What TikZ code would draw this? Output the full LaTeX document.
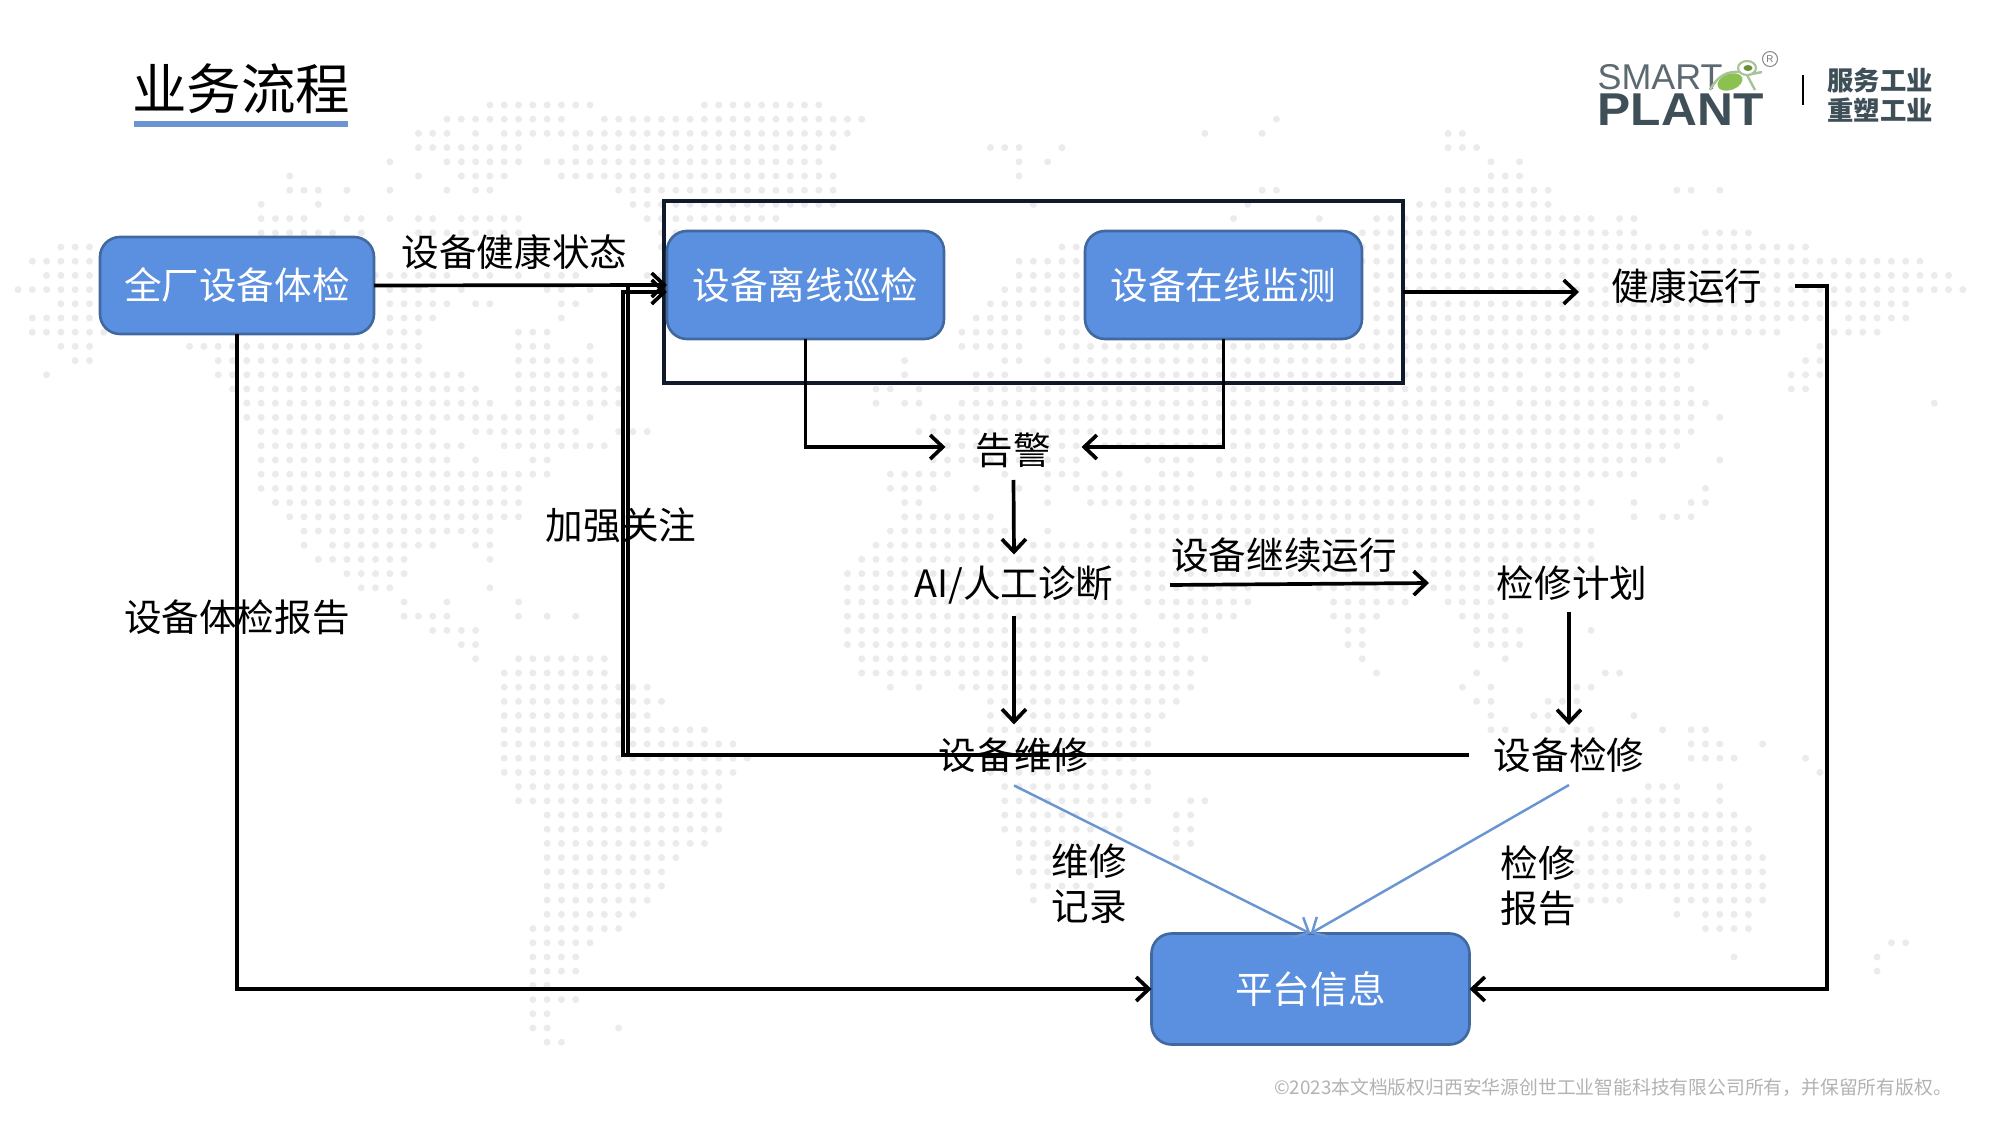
\documentclass[tikz,border=0pt]{standalone}
\usepackage{fontspec}
\setmainfont{Noto Sans CJK SC}
\newfontfamily\logofont{Liberation Sans}
\usetikzlibrary{arrows.meta}
\definecolor{boxblue}{RGB}{91,143,224}
\definecolor{boxedge}{RGB}{65,105,159}
\definecolor{linkblue}{RGB}{106,149,210}
\definecolor{framedark}{RGB}{16,26,42}
\definecolor{logogrey}{RGB}{63,79,87}
\definecolor{logoleaf}{RGB}{140,193,82}
\definecolor{logopale}{RGB}{169,194,154}
\newcommand{\worldrows}{0/33/40,0/48/56,1/30/38,1/41/56,1/57/59,1/88/88,2/28/30,2/32/32,2/34/37,2/38/58,2/83/83,2/87/87,2/100/101,
3/28/35,3/39/57,3/68/70,3/73/73,3/100/102,4/26/26,4/30/35,4/37/56,4/70/70,4/72/72,4/103/103,4/105/105,
5/19/19,5/28/28,5/31/34,5/38/57,5/70/70,5/103/105,6/19/21,6/23/23,6/26/26,6/30/30,6/32/33,6/42/57,6/87/88,6/100/107,6/116/117,6/119/119,
7/17/17,7/21/21,7/43/57,7/71/71,7/86/86,7/98/107,8/17/20,8/23/24,8/26/26,8/28/29,8/31/35,8/44/53,8/85/85,8/91/91,8/95/110,8/112/113,
9/17/22,9/24/24,9/28/29,9/30/35,9/45/48,9/94/113,9/118/121,10/3/5,10/45/48,10/73/74,10/94/125,11/1/5,11/70/74,11/94/133,
12/2/5,12/25/30,12/32/33,12/35/35,12/37/39,12/44/45,12/70/74,12/95/135,13/0/5,13/26/29,13/31/31,13/37/38,13/40/40,13/45/45,13/69/74,13/95/136,
14/3/5,14/26/30,14/32/33,14/38/39,14/68/72,14/73/74,14/95/132,15/1/5,15/26/29,15/38/38,15/67/70,15/72/74,15/95/126,15/128/132,
16/1/6,16/26/28,16/35/37,16/66/70,16/72/74,16/95/123,16/127/130,17/3/5,17/12/28,17/35/37,17/40/40,17/66/70,17/73/118,17/126/126,
18/4/5,18/14/28,18/35/40,18/62/62,18/69/70,18/72/72,18/74/117,18/125/126,19/2/2,19/14/31,19/35/41,19/62/62,19/67/69,19/72/105,19/107/116,19/124/126,
20/15/32,20/35/42,20/60/61,20/63/63,20/67/117,20/124/125,21/16/33,21/35/42,21/60/60,21/62/63,21/66/103,21/105/118,21/134/134,
22/16/38,22/40/40,22/64/117,22/119/119,23/17/29,23/32/39,23/42/44,23/63/117,24/17/31,24/34/41,24/64/116,
25/17/30,25/32/32,25/36/37,25/64/74,25/79/82,25/84/115,25/119/119,26/17/37,26/61/65,26/69/69,26/72/74,26/76/77,26/80/82,26/84/113,
27/17/35,27/61/64,27/67/67,27/70/70,27/72/72,27/74/82,27/85/109,27/118/118,28/18/35,28/62/63,28/72/72,28/75/110,28/113/113,28/117/118,
29/19/35,29/62/68,29/78/109,29/113/113,29/115/117,30/20/33,30/61/69,30/72/72,30/78/110,31/20/20,31/22/29,31/32/33,31/60/110,
32/21/27,32/33/33,32/59/110,33/23/27,33/58/110,34/24/26,34/33/33,34/58/86,34/91/103,
35/27/27,35/30/30,35/35/35,35/58/77,35/79/86,35/92/97,35/100/103,36/27/30,36/35/35,36/37/37,36/39/39,36/58/78,36/80/85,36/92/95,36/101/104,
37/29/32,37/58/78,37/81/83,37/93/94,37/102/105,37/110/110,38/31/32,38/58/81,38/93/94,38/102/105,39/32/32,39/35/41,39/59/83,39/94/94,39/104/104,
40/34/41,40/59/82,40/95/95,40/102/102,40/111/112,41/34/44,41/61/61,41/63/63,41/66/82,41/101/101,41/103/103,41/109/110,
42/34/45,42/68/81,42/102/103,42/107/109,43/34/44,43/68/80,43/103/103,43/106/109,43/113/113,
44/34/48,44/68/79,44/103/104,44/107/109,44/110/110,44/115/115,44/117/118,45/34/50,45/68/79,45/117/119,45/122/122,
46/34/51,46/68/78,46/117/120,46/125/125,47/34/50,47/68/79,47/126/126,48/35/49,48/69/76,48/78/79,48/114/116,48/119/119,
49/35/49,49/69/79,49/82/83,49/112/116,49/119/119,50/37/49,50/69/77,50/81/82,50/111/120,51/37/49,51/69/77,51/81/82,51/110/121,
52/37/48,52/70/75,52/81/82,52/109/121,53/37/46,53/70/75,53/81/81,53/109/122,54/37/45,54/70/75,54/109/122,55/37/45,55/71/75,55/109/122,
56/37/44,56/71/71,56/109/112,56/116/122,57/37/43,57/116/116,57/118/121,58/36/42,58/118/121,59/36/40,59/131/132,
60/36/39,60/120/120,60/130/130,61/36/39,61/130/130,62/36/37,63/36/39,64/36/37,65/36/37,65/42/42,66/37/38}
\tikzset{
  flowbox/.style={draw=boxedge,fill=boxblue,line width=0.75pt,rounded corners=0.2cm,text=white,inner sep=0pt,outer sep=0pt,font=\fontsize{10.7}{12.8}\selectfont},
  flowtext/.style={inner sep=0pt,outer sep=0pt,align=center,font=\fontsize{10.7}{12.8}\selectfont},
  flowline/.style={black,line width=1.05pt,-{Straight Barb[length=3.6pt,width=6.8pt]}},
  plainline/.style={black,line width=1.05pt},
  recordline/.style={linkblue,line width=0.7pt,-{Straight Barb[length=3.4pt,width=6.4pt]}}
}
\begin{document}
\begin{tikzpicture}[line cap=butt,line join=miter,x=1cm,y=1cm]
\useasboundingbox (0,0) rectangle (20,11.25);
\foreach \r/\a/\b in \worldrows {
  \foreach \c in {\a,...,\b} {
    \fill[black!8] ({0.18+0.143*\c},{10.20-0.142*\r}) circle (0.035);
  }
}
\node[anchor=center,inner sep=0pt,font=\fontsize{15.5}{18}\selectfont] (title) at (2.41,10.36) {业务流程};
\fill[linkblue] (1.34,9.98) rectangle (3.48,10.04);
\node[anchor=base west,inner sep=0pt,text=logogrey!85,font=\logofont\fontsize{10.2}{12}\selectfont] (smart) at (15.97,10.35) {SMART};
\node[anchor=base west,inner sep=0pt,text=logogrey,font=\logofont\bfseries\fontsize{13.1}{15}\selectfont,xscale=1.08,transform shape] (plant) at (15.97,9.99) {PLANT};
\draw[logopale,line width=0.7pt] (17.10,10.35) .. controls (17.18,10.50) and (17.28,10.54) .. (17.40,10.53);
\draw[logopale,line width=0.7pt] (17.47,10.50) -- (17.62,10.53);
\draw[logopale,line width=0.7pt] (17.47,10.50) -- (17.55,10.35);
\draw[logopale,fill=white,line width=0.6pt] (17.47,10.57) ellipse (0.09 and 0.07);
\fill[logoleaf!75!black] (17.48,10.57) ellipse (0.045 and 0.03);
\fill[logoleaf,rotate around={20:(17.30,10.43)}] (17.30,10.43) ellipse (0.13 and 0.08);
\draw[black!45,line width=0.3pt] (17.70,10.66) circle (0.075);
\node[inner sep=0pt,text=black!55,font=\logofont\fontsize{2.8}{3}\selectfont] (regmark) at (17.70,10.66) {R};
\draw[black,line width=0.6pt] (18.03,10.50) -- (18.03,10.20);
\node[inner sep=0pt,text=logogrey,font=\bfseries\fontsize{7.5}{9}\selectfont] (sloga) at (18.80,10.44) {服务工业};
\node[inner sep=0pt,text=logogrey,font=\bfseries\fontsize{7.5}{9}\selectfont] (slogb) at (18.80,10.15) {重塑工业};
\node[draw=framedark,line width=1.15pt,inner sep=0pt,outer sep=0pt,minimum width=7.39cm,minimum height=1.82cm] (frame) at (10.335,8.33) {};
\node[flowbox,minimum width=2.74cm,minimum height=0.97cm] (body) at (2.37,8.395) {全厂设备体检};
\node[flowbox,minimum width=2.77cm,minimum height=1.08cm] (offline) at (8.055,8.40) {设备离线巡检};
\node[flowbox,minimum width=2.77cm,minimum height=1.08cm] (online) at (12.235,8.40) {设备在线监测};
\node[flowbox,minimum width=3.18cm,minimum height=1.11cm] (platform) at (13.105,1.36) {平台信息};
\node[flowtext,minimum width=1.36cm,minimum height=0.66cm,text height=0.39cm,text depth=0.04cm] (alarm) at (10.135,6.78) {告警};
\node[flowtext,minimum width=3.12cm,minimum height=0.61cm] (diag) at (10.14,5.40) {AI/人工诊断};
\node[flowtext,minimum width=1.6cm,minimum height=0.61cm] (fix) at (10.14,3.70) {设备维修};
\node[flowtext,minimum width=2.0cm,minimum height=0.6cm] (repair) at (15.69,3.70) {设备检修};
\node[flowtext,minimum width=2.86cm,minimum height=0.58cm] (plan) at (15.72,5.42) {检修计划};
\node[flowtext,minimum width=2.16cm,minimum height=0.6cm] (health) at (16.87,8.39) {健康运行};
\node[flowtext] (lbstate) at (5.145,8.73) {设备健康状态};
\node[flowtext] (lbfocus) at (6.21,6.00) {加强关注};
\node[flowtext] (lbreport) at (2.37,5.08) {设备体检报告};
\node[flowtext] (lbgoon) at (12.84,5.70) {设备继续运行};
\node[flowtext] (lbrecord) at (10.89,2.41) {维修\\记录};
\node[flowtext] (lbrepair) at (15.38,2.39) {检修\\报告};
\node[inner sep=0pt,text=black!30,font=\fontsize{5.35}{6}\selectfont] (copyr) at (16.13,0.37) {©2023本文档版权归西安华源创世工业智能科技有限公司所有，并保留所有版权。};
\coordinate (fixup) at (6.23,8.33);
\coordinate (repairup) at (6.28,8.40);
\coordinate (rightup) at (18.27,8.39);
\draw[flowline] (body.east) -- (offline.west);
\draw[flowline] (body.south) |- (platform.west);
\draw[flowline] (frame.east) -- (frame.east -| health.west);
\draw[flowline] (health.east) -- (rightup) |- (platform.east);
\draw[flowline] (offline.south) |- (alarm.west);
\draw[flowline] (online.south) |- (alarm.east);
\draw[flowline] (alarm.south) -- (diag.north);
\draw[flowline] (diag.south) -- (fix.north);
\draw[flowline] (diag.east) -- (plan.west);
\draw[flowline] (plan.south -| repair.north) -- (repair.north);
\draw[flowline] (fix.west) -- (fixup |- fix.west) -- (fixup) -- (fixup -| offline.west);
\draw[plainline] (repair.west) -- (repairup |- repair.west) -- (repairup);
\draw[recordline] (fix.south) -- (platform.north);
\draw[recordline] (repair.south) -- (platform.north);
\end{tikzpicture}
\end{document}
